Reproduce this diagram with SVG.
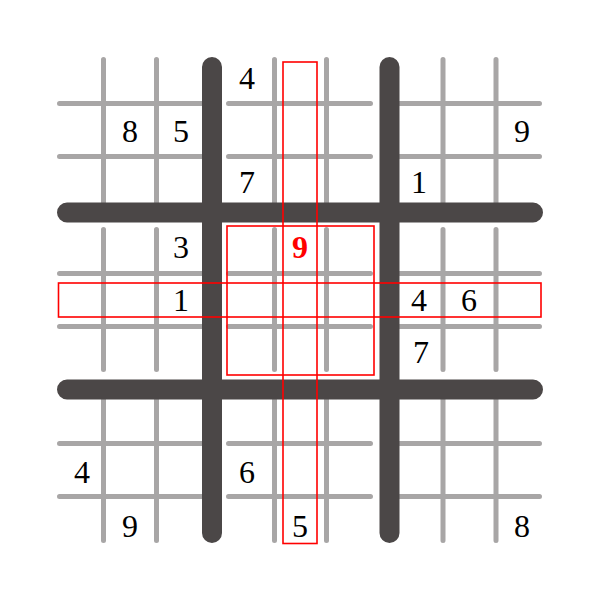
<svg xmlns="http://www.w3.org/2000/svg" width="600" height="600" viewBox="0 0 600 600">
<style>
.thin{stroke:#a8a6a6;stroke-width:5;stroke-linecap:round;fill:none}
.thick{stroke:#4b4747;stroke-width:20;stroke-linecap:round;fill:none}
.hl{fill:none;stroke:#ff0000;stroke-width:1.6}
.d{font-family:"Liberation Serif","Times New Roman",serif;font-size:32px;text-anchor:middle;fill:#000}
.r{fill:#ff0000;font-weight:bold}
</style>
<rect width="600" height="600" fill="#fff"/>
<g id="grid-thin">
<path class="thin" d="M59.5 103.5H212M228.5 103.5H370.5M390 103.5H539.5
M59.5 156.5H212M228.5 156.5H370.5M390 156.5H539.5
M59.5 273.5H212M228.5 273.5H370.5M390 273.5H539.5
M59.5 326.5H212M228.5 326.5H370.5M390 326.5H539.5
M59.5 443.5H212M228.5 443.5H370.5M390 443.5H539.5
M59.5 496.5H212M228.5 496.5H370.5M390 496.5H539.5"/>
<path class="thin" d="M103.5 59.5V212M103.5 229.5V369.5M103.5 390V540.5
M156.5 59.5V212M156.5 229.5V369.5M156.5 390V540.5
M274.5 59.5V212M274.5 229.5V369.5M274.5 390V540.5
M326.5 59.5V212M326.5 229.5V369.5M326.5 390V540.5
M443 59.5V212M443 229.5V369.5M443 390V540.5
M496 59.5V212M496 229.5V369.5M496 390V540.5"/>
</g>
<g id="grid-thick">
<path class="thick" d="M212 67V533M389.5 67V533M67 212.5H533M67 389.5H533"/>
</g>
<g id="highlights">
<rect class="hl" x="283" y="62" width="34" height="481.5"/>
<rect class="hl" x="58.5" y="283" width="482.5" height="34"/>
<rect class="hl" x="227" y="226" width="147" height="149"/>
</g>
<g id="digits">
<text class="d" x="247" y="89">4</text>
<text class="d" x="130" y="141.5">8</text>
<text class="d" x="181" y="141.5">5</text>
<text class="d" x="522" y="141.5">9</text>
<text class="d" x="247" y="193">7</text>
<text class="d" x="419" y="193">1</text>
<text class="d" x="181" y="258">3</text>
<text class="d r" x="300" y="258">9</text>
<text class="d" x="181" y="311">1</text>
<text class="d" x="419" y="311">4</text>
<text class="d" x="469" y="311">6</text>
<text class="d" x="421" y="363">7</text>
<text class="d" x="82" y="483">4</text>
<text class="d" x="247" y="483">6</text>
<text class="d" x="130" y="536.5">9</text>
<text class="d" x="300" y="536.5">5</text>
<text class="d" x="522" y="536.5">8</text>
</g>
</svg>
